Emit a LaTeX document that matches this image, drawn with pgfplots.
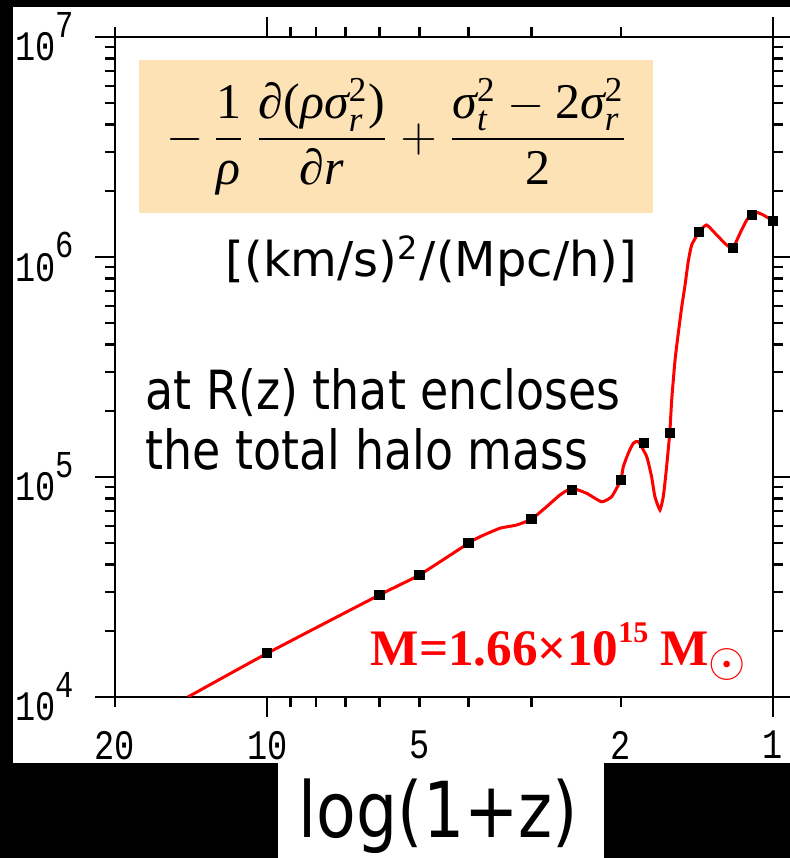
\documentclass[border=0pt]{standalone}
\usepackage{fontspec}
\usepackage{amsmath}
\usepackage{pgfplots}
\pgfplotsset{compat=1.18}
\setmainfont{DejaVu Sans}
\newfontfamily\tickfont[FakeStretch=0.8]{Liberation Mono}
\newfontfamily\tah[FakeStretch=0.85]{DejaVu Sans}
\newfontfamily\tahL[FakeStretch=0.84]{DejaVu Sans}
\newfontfamily\tnr{Liberation Serif}
\newcommand{\ti}[1]{\text{\tnr\itshape #1}}
\newcommand{\tu}[1]{\text{\tnr #1}}
\definecolor{boxfill}{RGB}{253,226,182}
\newcommand{\ylab}[1]{10\raisebox{0.55em}{\fontsize{9.5}{9.5}\selectfont #1}}

\begin{document}
\begin{tikzpicture}
% page background and the white panels
\fill[black] (0,0) rectangle (197.5pt,214.5pt);
\fill[white] (3.25pt,23.75pt) rectangle (197.5pt,212.75pt);
\fill[white] (69.5pt,0pt) rectangle (151pt,23.75pt);

\begin{axis}[
  at={(28.75pt,40.25pt)}, anchor=south west,
  scale only axis, width=164.5pt, height=165pt,
  xmode=log, ymode=log, x dir=reverse,
  xmin=1, xmax=20, ymin=1e4, ymax=1e7,
  axis line style={line width=0.6pt},
  tick style={black, line width=0.6pt},
  tick align=outside,
  major tick length=5pt, minor tick length=2.5pt,
  xtick={1,10}, xticklabels={1,10},
  minor xtick={3,4,6,7,8,9},
  extra x ticks={2,5,20}, extra x tick labels={2,5,20},
  extra x tick style={major tick length=2.5pt,
    xticklabel style={yshift=-2.5pt}},
  ytick={1e4,1e5,1e6,1e7},
  yticklabels={\ylab{4},\ylab{5},\ylab{6},\ylab{7}},
  minor ytick={2e4,3e4,4e4,5e4,6e4,7e4,8e4,9e4,
               2e5,3e5,4e5,5e5,6e5,7e5,8e5,9e5,
               2e6,3e6,4e6,5e6,6e6,7e6,8e6,9e6},
  tick label style={font=\tickfont\fontsize{10.5}{12}\selectfont},
  yticklabel style={anchor=east, xshift=-1.8pt},
]
% measured halo snapshots
\addplot[only marks, mark=square*, mark size=1.1pt, black] coordinates {
  (10,1.58e4) (6,2.91e4) (5,3.59e4) (4,5.0e4) (3,6.44e4) (2.5,8.73e4)
  (2,9.69e4) (1.8,1.43e5) (1.6,1.585e5) (1.4,1.30e6) (1.2,1.10e6)
  (1.1,1.55e6) (1,1.46e6)
};
% interpolated track
\addplot[red, line width=0.75pt, smooth, tension=0.3] coordinates {
  (14.35,1.0e4) (10,1.58e4) (6,2.91e4) (5,3.59e4) (4,5.0e4)
  (3.797,5.35e4) (3.465,5.85e4) (3.212,6.05e4) (3,6.44e4)
  (2.803,7.33e4) (2.638,8.28e4) (2.5,8.89e4) (2.336,8.43e4)
  (2.182,7.72e4) (2.084,8.14e4) (2.0,9.69e4) (1.977,1.114e5)
  (1.933,1.281e5) (1.889,1.423e5) (1.846,1.447e5) (1.777,1.237e5)
  (1.738,1.003e5) (1.712,8.14e4) (1.673,7.08e4) (1.648,8.14e4)
  (1.628,1.039e5) (1.6,1.585e5) (1.586,2.24e5) (1.562,3.40e5)
  (1.539,4.51e5) (1.515,5.94e5) (1.494,7.33e5) (1.471,9.52e5)
  (1.448,1.134e6) (1.4,1.30e6) (1.353,1.398e6) (1.292,1.259e6)
  (1.235,1.134e6) (1.2,1.10e6) (1.162,1.281e6) (1.127,1.473e6)
  (1.1,1.55e6) (1.071,1.59e6) (1.037,1.536e6) (1.0,1.46e6)
};
\end{axis}

% formula box
\fill[boxfill] (34.75pt,161.25pt) rectangle (163.25pt,199.5pt);
\node at (99.4pt,180.4pt) {\fontsize{12.5}{15}\selectfont
  $\displaystyle -\,\frac{\tu{1}}{\ti{ρ}}\,
   \frac{\tu{∂(}\ti{ρσ}_{\ti{r}}^{\tu{2}}\tu{)}}{\tu{∂}\ti{r}}
   +\frac{\ti{σ}_{\ti{t}}^{\tu{2}}-\tu{2}\ti{σ}_{\ti{r}}^{\tu{2}}}{\tu{2}}$};

\node[anchor=base east, inner sep=0pt] at (159.5pt,145.3pt)
  {\fontsize{12}{14}\selectfont [(km/s)\textsuperscript{2}/(Mpc/h)]};

\node[anchor=base west, inner sep=0pt] at (36.25pt,112pt)
  {\tah\fontsize{13.5}{16}\selectfont at R(z) that encloses};
\node[anchor=base west, inner sep=0pt] at (36.25pt,97pt)
  {\tah\fontsize{13.5}{16}\selectfont the total halo mass};

\node[anchor=base west, inner sep=0pt, text=red] at (92.5pt,48.25pt)
  {\tnr\bfseries\fontsize{12.8}{14}\selectfont M=1.66×10\raisebox{5.5pt}{\fontsize{7.5}{8}\selectfont 15}\hspace{3pt}M\raisebox{-3pt}{\fontsize{11.5}{12}\selectfont$\odot$}};

\node[anchor=base, inner sep=0pt] at (109.6pt,5.25pt)
  {\tahL\fontsize{19.3}{22}\selectfont log(1+z)};

\pgfresetboundingbox
\useasboundingbox (0,0) rectangle (197.5pt,214.5pt);
\end{tikzpicture}
\end{document}
